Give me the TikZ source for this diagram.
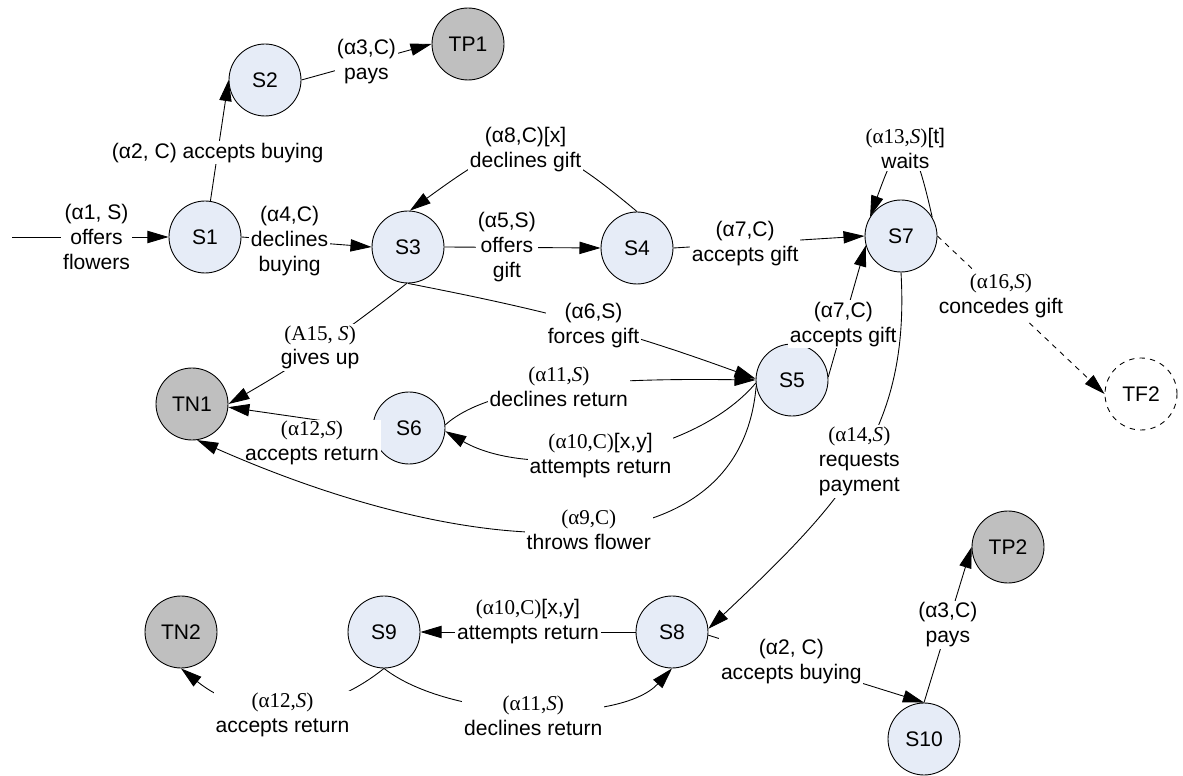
\documentclass[tikz,border=0pt]{standalone}
\usepackage{fontspec}
\setmainfont{Liberation Sans}
\newfontfamily\serfont{Liberation Serif}
\usetikzlibrary{arrows.meta}
\definecolor{stfill}{HTML}{E6ECF7}
\definecolor{tgray}{HTML}{BFBFBF}
\newcommand{\sv}[1]{{\serfont #1}}

\begin{document}
\begin{tikzpicture}[x=0.02cm,y=0.02cm,
        font=\fontsize{12}{14.2}\selectfont,
        state/.style={circle,draw,fill=stfill,line width=0.5pt,minimum size=1.44cm,inner sep=0pt},
        term/.style={state,fill=tgray},
        fail/.style={state,dashed,fill=white},
        act/.style={-{Triangle[length=12pt,width=7pt]},line width=0.5pt},
        lbl/.style={fill=white,inner sep=1pt,align=center}
    ]
        \useasboundingbox (0,0) rectangle (1183,-776);

        % Define the nodes
        \coordinate (in) at (12,-237);
        \node[state] (S1) at (205,-237) {S1};
        \node[state] (S2) at (265,-80) {S2};
        \node[term] (TP1) at (468,-44) {TP1};
        \node[state] (S3) at (408,-247) {S3};
        \node[state] (S4) at (637,-248) {S4};
        \node[state] (S7) at (901,-236) {S7};
        \node[fail] (TF2) at (1141,-394) {TF2};
        \node[state] (S5) at (792,-380) {S5};
        \node[state] (S6) at (409,-428) {S6};
        \node[term] (TN1) at (192,-404) {TN1};
        \node[term] (TN2) at (181,-632) {TN2};
        \node[state] (S9) at (384,-632) {S9};
        \node[state] (S8) at (672,-632) {S8};
        \node[state] (S10) at (924,-739) {S10};
        \node[term] (TP2) at (1008,-547) {TP2};

        % Draw the transitions
        \draw[act] (in) -- node[lbl,pos=0.54] {(α1, S)\\offers\\flowers} (S1);
        \draw[act] (S1) -- node[lbl,pos=0.4] {(α2, C) accepts buying} (S2.west);
        \draw[act] (S2.east) -- node[lbl,pos=0.5] {(α3,C)\\pays} (TP1.west);
        \draw[act] (S1.east) -- node[lbl,pos=0.37] {(α4,C)\\declines\\buying} (S3.west);
        \draw[act] (S3.east) -- node[lbl,pos=0.4] {(α5,S)\\offers\\gift} (S4.west);
        \draw[act] (S4.north) to[out=140,in=36,looseness=1.5] node[lbl] {(α8,C)[x]\\declines gift} (S3.87);
        \draw[act] (S4.east) -- node[lbl,pos=0.375] {(α7,C)\\accepts gift} (S7.west);
        \draw[act] (S7.31) .. controls +(-21,93) and +(32,89) .. node[lbl] {\sv{(α13,\textit{S})}[t]\\waits} (S7.148);
        \draw[act,dashed] (S7.east) -- node[lbl,pos=0.38] {\sv{(α16,\textit{S})}\\concedes gift} (TF2.west);
        \draw[act] (S5.5) -- node[lbl,pos=0.4] {(α7,C)\\accepts gift} (S7.195);
        \draw[act] (S3.south) to[out=-11,in=160] node[lbl,pos=0.53] {(α6,S)\\forces gift} (S5.178);
        \draw[act] (S3.-92) to[bend left=4] node[lbl] {\sv{(A15, \textit{S})}\\gives up} (TN1.east);
        \draw[act] (S6.5) .. controls (490,-385) and (600,-378) .. node[lbl] {\sv{(α11,\textit{S})}\\declines return} (S5.180);
        \draw[act] (S5.185) .. controls (690,-460) and (530,-480) .. node[lbl,pos=0.52] {\sv{(α10,C)}[x,y]\\attempts return} (S6.-5);
        \draw[act] (S6.west) -- node[lbl,pos=0.42,yshift=-0.48cm] {\sv{(α12,\textit{S})}\\accepts return} (TN1.-5);
        \draw[act] (S5.190) .. controls (740,-575) and (480,-565) .. node[lbl,pos=0.48] {\sv{(α9,C)}\\throws flower} (TN1.-82);
        \draw[act] (S7.south) .. controls (910,-430) and (845,-500) .. node[lbl] {\sv{(α14,\textit{S})}\\requests\\payment} (S8.5);
        \draw[act] (S8.west) -- node[lbl,yshift=0.2cm] {\sv{(α10,C)}[x,y]\\attempts return} (S9.east);
        \draw[act] (S9.south) .. controls (450,-720) and (620,-725) .. node[lbl,yshift=-0.14cm] {\sv{(α11,\textit{S})}\\declines return} (S8.south);
        \draw[act] (S9.south) .. controls (320,-720) and (245,-720) .. node[lbl,yshift=-0.15cm] {\sv{(α12,\textit{S})}\\accepts return} (TN2.south);
        \draw[act] (S8.-5) -- node[lbl,pos=0.385] {(α2, C)\\accepts buying} (S10.north);
        \draw[act] (S10.north) -- node[lbl] {(α3,C)\\pays} (TP2.west);
    \end{tikzpicture}
\end{document}
